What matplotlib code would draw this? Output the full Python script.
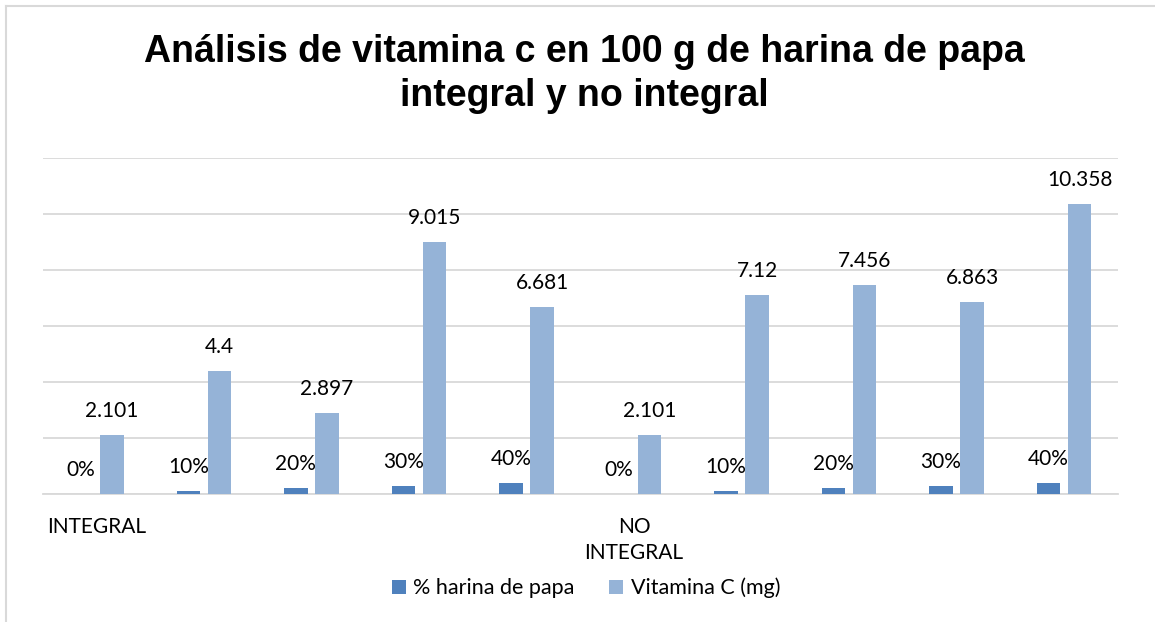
import matplotlib
matplotlib.use("Agg")
import matplotlib.pyplot as plt
from matplotlib.patches import Patch
from matplotlib.lines import Line2D
import numpy as np

# data
categories = ["INTEGRAL", "", "", "", "", "NO\nINTEGRAL", "", "", "", ""]
pct_harina = [0.0, 0.1, 0.2, 0.3, 0.4, 0.0, 0.1, 0.2, 0.3, 0.4]
pct_labels = ["0%", "10%", "20%", "30%", "40%", "0%", "10%", "20%", "30%", "40%"]
vitamina_c = [2.101, 4.4, 2.897, 9.015, 6.681, 2.101, 7.12, 7.456, 6.863, 10.358]
vit_labels = ["2.101", "4.4", "2.897", "9.015", "6.681", "2.101", "7.12", "7.456", "6.863", "10.358"]

title = "Análisis de vitamina c en 100 g de harina de papa\nintegral y no integral"
series_names = ["% harina de papa", "Vitamina C (mg)"]

dark = "#4F81BD"
light = "#95B3D7"
grid_col = "#D9D9D9"
body_font = ["Lato", "DejaVu Sans"]

W, H = 1155, 622
fig = plt.figure(figsize=(W / 100, H / 100), dpi=100)

# axes placed in pixel terms of the reference
left, right = 42.75, 1117.75
top, base = 158, 494
ax = fig.add_axes([left / W, (H - base) / H, (right - left) / W, (base - top) / H])

x = np.arange(len(categories))
w = 0.22
off = 0.145
ax.bar(x - off, pct_harina, width=w, color=dark, zorder=3)
ax.bar(x + off, vitamina_c, width=w, color=light, zorder=3)

for xi, v, lab in zip(x, pct_harina, pct_labels):
    ax.annotate(lab, (xi - off, v), xytext=(0, 13), textcoords="offset points",
                ha="center", va="baseline", fontsize=15, family=body_font, color="#000000")
for xi, v, lab in zip(x, vitamina_c, vit_labels):
    ax.annotate(lab, (xi + off, v), xytext=(0, 13), textcoords="offset points",
                ha="center", va="baseline", fontsize=15, family=body_font, color="#000000")

ax.set_xlim(-0.5, len(categories) - 0.5)
ax.set_ylim(0, 12)
ax.set_yticks(np.arange(0, 13, 2))
ax.yaxis.grid(True, color=grid_col, linewidth=1.3, zorder=0)
ax.tick_params(axis="y", left=False, labelleft=False)
ax.set_xticks(x)
ax.set_xticklabels(categories, fontsize=15, family=body_font, linespacing=1.35, va="top")
ax.tick_params(axis="x", bottom=False, pad=13)
for s in ["top", "right", "left"]:
    ax.spines[s].set_visible(False)
ax.spines["bottom"].set_color(grid_col)
ax.spines["bottom"].set_linewidth(1.3)

fig.text(584 / W, 1 - 74 / H, title, ha="center", va="center", fontsize=27,
         fontweight="bold", family=["Liberation Sans", "DejaVu Sans"],
         linespacing=1.3, multialignment="center")

handles = [Patch(facecolor=dark), Patch(facecolor=light)]
fig.legend(handles, series_names, loc="center", bbox_to_anchor=(586 / W, 1 - 588 / H),
           ncol=2, frameon=False, prop={"family": body_font, "size": 15.5},
           handlelength=0.65, handleheight=0.65, handletextpad=0.35, columnspacing=1.6)

# chart frame (only top and left edges visible in the crop)
fig.add_artist(Line2D([6 / W, 1], [1 - 6 / H, 1 - 6 / H], color=grid_col, linewidth=1.5,
                      transform=fig.transFigure))
fig.add_artist(Line2D([6 / W, 6 / W], [0, 1 - 6 / H], color=grid_col, linewidth=1.5,
                      transform=fig.transFigure))

fig.savefig("out.png", dpi=100, facecolor="white")
